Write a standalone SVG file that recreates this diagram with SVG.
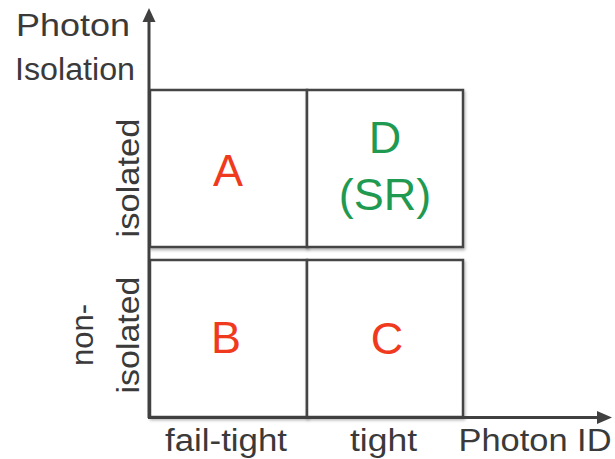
<svg xmlns="http://www.w3.org/2000/svg" width="615" height="459" viewBox="0 0 615 459">
<style>
.lbl{font-family:"Liberation Sans",Arial,sans-serif;font-size:31px;fill:#3a3a3a;text-anchor:middle}
.big{font-family:"Liberation Sans",Arial,sans-serif;font-size:45px;text-anchor:middle}
.red{fill:#f03a1e}
.grn{fill:#1f9a50}
.box{fill:#fff;stroke:#444;stroke-width:2.5;filter:url(#sh)}
.ax{stroke:#404040;stroke-width:3;fill:none}
</style>
<defs>
<filter id="sh" x="-5%" y="-5%" width="115%" height="120%">
<feDropShadow dx="1" dy="2" stdDeviation="1.5" flood-color="#000" flood-opacity="0.3"/>
</filter>
<marker id="arr" viewBox="0 0 10 10" refX="9" refY="5" markerWidth="5" markerHeight="5" orient="auto" markerUnits="userSpaceOnUse">
</marker>
</defs>
<rect width="615" height="459" fill="#fff"/>
<g id="boxes">
<g id="A"><rect class="box" x="150" y="90" width="157" height="157"/><text class="big red" x="228" y="186">A</text></g>
<g id="D"><rect class="box" x="307" y="90" width="156" height="157"/><text class="big grn" x="385" y="153">D</text><text class="big grn" x="385" y="210">(SR)</text></g>
<g id="B"><rect class="box" x="150" y="260" width="157" height="157"/><text class="big red" x="226" y="353">B</text></g>
<g id="C"><rect class="box" x="307" y="260" width="156" height="157"/><text class="big red" x="387" y="354">C</text></g>
</g>
<g id="connectors">
<path class="ax" d="M149,418 V18"/>
<path d="M142.5,22 L149,8 L155.5,22 Z" fill="#404040"/>
<path class="ax" d="M148,417.5 H600"/>
<path d="M597,411 L612,417.5 L597,424 Z" fill="#404040"/>
</g>
<g id="labels">
<text class="lbl" x="73" y="36" textLength="114" lengthAdjust="spacingAndGlyphs">Photon</text>
<text class="lbl" x="75" y="80" textLength="120" lengthAdjust="spacingAndGlyphs">Isolation</text>
<text class="lbl" x="226" y="451" textLength="122" lengthAdjust="spacingAndGlyphs">fail-tight</text>
<text class="lbl" x="383.5" y="451" textLength="67" lengthAdjust="spacingAndGlyphs">tight</text>
<text class="lbl" x="535" y="451" textLength="153" lengthAdjust="spacingAndGlyphs">Photon ID</text>
<text class="lbl" transform="translate(139,178) rotate(-90)" textLength="119" lengthAdjust="spacingAndGlyphs">isolated</text>
<text class="lbl" transform="translate(93,335) rotate(-90)">non-</text>
<text class="lbl" transform="translate(139,335) rotate(-90)" textLength="117" lengthAdjust="spacingAndGlyphs">isolated</text>
</g>
</svg>
